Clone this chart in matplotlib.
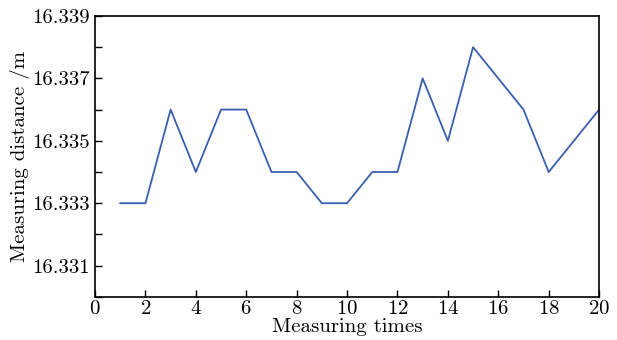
import matplotlib
matplotlib.use("Agg")
import matplotlib.pyplot as plt
from matplotlib.ticker import MultipleLocator, FormatStrFormatter

plt.rcParams['font.family'] = ['cmr10', 'DejaVu Serif']
plt.rcParams['axes.formatter.use_mathtext'] = True

times = list(range(1, 21))
distance = [16.333, 16.333, 16.336, 16.334, 16.336, 16.336, 16.334, 16.334, 16.333, 16.333,
            16.334, 16.334, 16.337, 16.335, 16.338, 16.337, 16.336, 16.334, 16.335, 16.336]

fig = plt.figure(figsize=(6.17, 3.4), dpi=100)
ax = fig.add_axes([0.154, 0.127, 0.817, 0.826])

ax.plot(times, distance, color='#3a5fb0', linewidth=1.3)

ax.set_xlim(0, 20)
ax.set_ylim(16.330, 16.339)
ax.set_xticks(range(0, 21, 2))
ax.set_yticks([16.331, 16.333, 16.335, 16.337, 16.339])
ax.yaxis.set_minor_locator(MultipleLocator(0.001))
ax.yaxis.set_major_formatter(FormatStrFormatter('%.3f'))
ax.tick_params(direction='in', top=False, right=False, labelsize=15, length=5, width=1)
ax.tick_params(which='minor', direction='in', length=5, width=1)
ax.tick_params(axis='x', pad=2)

ax.set_xlabel('Measuring times', fontsize=15, labelpad=0)
ax.set_ylabel('Measuring distance /m', fontsize=15, labelpad=2)
for s in ax.spines.values():
    s.set_linewidth(1.2)

fig.savefig('out.png', dpi=100)
